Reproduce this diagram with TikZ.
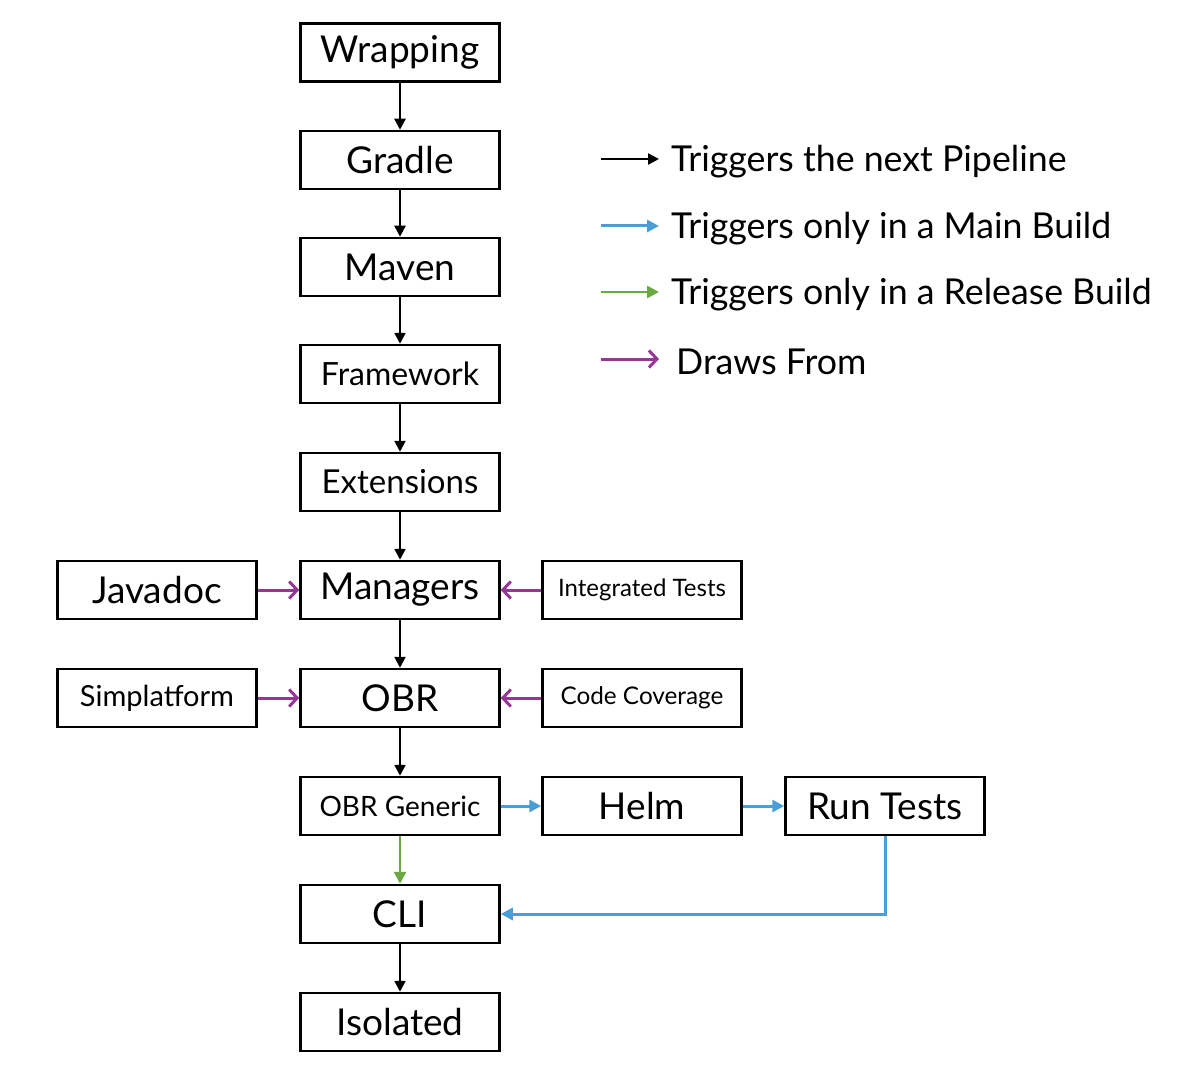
\documentclass[tikz,border=0pt]{standalone}
\usepackage{fontspec}
\setmainfont{Lato}
\usetikzlibrary{arrows.meta}
\definecolor{mblue}{RGB}{74,158,214}
\definecolor{mpurple}{RGB}{150,55,150}
\definecolor{mgreen}{RGB}{106,168,66}
\newcommand{\fs}[1]{\fontsize{#1}{#1}\selectfont}
\tikzset{
  box/.style={draw=black, line width=2.5pt, minimum width=199pt, minimum height=58pt, inner sep=0pt, font=\fs{37}},
  blackarr/.style={draw=black, line width=2.4pt, -{Triangle[length=11pt,width=11pt]}},
  bluearr/.style={draw=mblue, line width=3pt, -{Triangle[length=12pt,width=12pt]}},
  greenarr/.style={draw=mgreen, line width=2.8pt, -{Triangle[length=12pt,width=12pt]}},
  purparr/.style={draw=mpurple, line width=3pt, -{Straight Barb[length=8pt,width=17pt,line width=3pt]}},
  legtext/.style={anchor=west, inner sep=0pt, font=\fs{35.7}, yshift=-2.5pt}
}
\begin{document}
\begin{tikzpicture}[x=1pt,y=-1pt]
\useasboundingbox (0,0) rectangle (1186,1078);
% main column
\node[box] (wrap) at (400,52.5) {Wrapping};
\node[box] (gradle) at (400,160) {Gradle};
\node[box] (maven) at (400,267) {Maven};
\node[box, font=\fs{32}] (frame) at (400,374) {Framework};
\node[box, font=\fs{33}] (ext) at (400,482) {Extensions};
\node[box] (mgr) at (400,590) {Managers};
\node[box] (obr) at (400,698) {OBR};
\node[box, font=\fs{28}] (obrg) at (400,806) {OBR Generic};
\node[box] (cli) at (400,914) {CLI};
\node[box] (iso) at (400,1022) {Isolated};
% side boxes
\node[box] (javadoc) at (157,590) {Javadoc};
\node[box, font=\fs{29}] (simp) at (157,698) {Simplatform};
\node[box, font=\fs{24}] (itest) at (642,590) {Integrated Tests};
\node[box, font=\fs{24.3}] (cov) at (642,698) {Code Coverage};
\node[box] (helm) at (642,806) {Helm};
\node[box] (run) at (885,806) {Run Tests};
% black triggers
\draw[blackarr] (wrap) -- (gradle);
\draw[blackarr] (gradle) -- (maven);
\draw[blackarr] (maven) -- (frame);
\draw[blackarr] (frame) -- (ext);
\draw[blackarr] (ext) -- (mgr);
\draw[blackarr] (mgr) -- (obr);
\draw[blackarr] (obr) -- (obrg);
\draw[blackarr] (cli) -- (iso);
% draws from
\draw[purparr] (javadoc) -- (mgr);
\draw[purparr] (itest) -- (mgr);
\draw[purparr] (simp) -- (obr);
\draw[purparr] (cov) -- (obr);
% main build
\draw[bluearr] (obrg) -- (helm);
\draw[bluearr] (helm) -- (run);
\draw[bluearr] (run.south) |- (cli.east);
% release build
\draw[greenarr] (obrg) -- (cli);
% legend
\coordinate (l1a) at (601,159); \coordinate (l1b) at (659,159);
\coordinate (l2a) at (601,226); \coordinate (l2b) at (659,226);
\coordinate (l3a) at (601,292); \coordinate (l3b) at (659,292);
\coordinate (l4a) at (601,359); \coordinate (l4b) at (659,359);
\draw[blackarr] (l1a) -- (l1b);
\draw[bluearr] (l2a) -- (l2b);
\draw[greenarr] (l3a) -- (l3b);
\draw[purparr] (l4a) -- (l4b);
\node[legtext] (t1) at (671,159) {Triggers the next Pipeline};
\node[legtext] (t2) at (671,226) {Triggers only in a Main Build};
\node[legtext] (t3) at (671,292) {Triggers only in a Release Build};
\node[legtext] (t4) at (676,359) {Draws From};
\end{tikzpicture}
\end{document}
